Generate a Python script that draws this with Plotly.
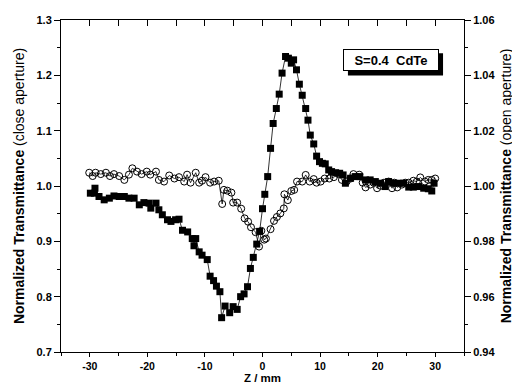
import plotly.graph_objects as go

# Close aperture (filled squares, left axis)
z_close = [-29.9, -29.2, -29.1, -28.4, -27.5, -26.6, -25.8, -24.9, -24.0, -23.2, -22.3, -21.4, -20.6,
           -19.7, -19.4, -18.5, -18.0, -17.4, -16.5, -15.9, -15.1, -14.5, -13.9, -13.0, -12.2, -11.9,
           -11.6, -11.0, -10.5, -9.6, -9.1, -8.5, -8.0, -7.4, -7.1, -6.5, -5.7, -5.1, -4.4, -3.8, -3.2,
           -2.6, -2.1, -1.6, -1.0, -0.5, 0.0, 0.4, 0.9, 1.4, 1.85, 2.4, 2.9, 3.4, 4.0, 4.5, 5.0, 5.4,
           5.9, 6.4, 6.9, 7.5, 7.9, 8.3, 8.9, 9.4, 9.9, 10.4, 10.9, 11.5, 12.0, 12.7, 13.4, 14.0, 14.4,
           15.3, 16.1, 16.9, 17.9, 18.7, 19.6, 20.5, 21.3, 21.9, 22.8, 23.7, 24.5, 25.4, 26.2, 27.1,
           28.0, 28.8, 29.4, 29.8]
t_close = [0.987, 0.987, 0.996, 0.981, 0.975, 0.978, 0.982, 0.981, 0.981, 0.978, 0.978, 0.966, 0.970,
           0.969, 0.960, 0.969, 0.957, 0.948, 0.939, 0.936, 0.939, 0.940, 0.920, 0.917, 0.905, 0.892,
           0.905, 0.881, 0.875, 0.867, 0.837, 0.829, 0.819, 0.809, 0.762, 0.783, 0.771, 0.782, 0.777,
           0.800, 0.805, 0.818, 0.851, 0.871, 0.895, 0.918, 0.959, 0.985, 1.017, 1.068, 1.113, 1.140,
           1.166, 1.204, 1.234, 1.231, 1.222, 1.228, 1.210, 1.184, 1.164, 1.140, 1.119, 1.092, 1.076,
           1.054, 1.044, 1.041, 1.040, 1.029, 1.026, 1.024, 1.023, 1.020, 1.005, 1.014, 1.017, 1.017,
           1.011, 1.011, 1.008, 1.005, 0.999, 1.008, 1.005, 1.005, 1.005, 0.998, 0.998, 0.999, 0.996,
           0.995, 0.991, 1.005]

# Open aperture (open circles, right axis)
z_open = [-30.1, -29.5, -29.0, -28.1, -27.2, -26.5, -25.8, -24.9, -24.0, -23.2, -22.6, -21.8, -21.0,
          -20.1, -19.5, -18.5, -18.0, -17.1, -16.2, -15.3, -14.5, -13.6, -13.1, -12.5, -11.6, -11.0,
          -10.5, -9.9, -9.1, -8.4, -7.6, -7.0, -6.7, -6.1, -5.4, -5.1, -4.4, -3.7, -3.1, -2.5, -2.0,
          -1.2, -0.6, -0.2, 0.3, 0.6, 1.4, 2.0, 2.5, 3.1, 3.7, 3.8, 4.4, 5.0, 5.5, 6.0, 6.9, 7.5, 8.2,
          8.9, 9.4, 10.1, 10.8, 11.6, 12.4, 13.2, 13.8, 14.6, 15.3, 15.8, 16.8, 17.4, 17.9, 18.7, 19.3,
          19.9, 20.5, 21.1, 21.9, 22.5, 22.9, 23.4, 24.2, 24.8, 25.4, 26.2, 26.8, 27.4, 28.2, 28.8,
          29.4, 30.0]
t_open = [1.0048, 1.0036, 1.0048, 1.0043, 1.0048, 1.0036, 1.0043, 1.0036, 1.0022, 1.0041, 1.0064,
          1.0052, 1.0043, 1.0052, 1.0041, 1.0052, 1.0022, 1.0016, 1.0038, 1.0027, 1.0032, 1.0016,
          1.0041, 1.0012, 1.0048, 1.0012, 1.0019, 1.0032, 1.0012, 1.0016, 1.0019, 0.9935, 0.9986,
          0.9983, 0.9976, 0.9940, 0.9940, 0.9918, 0.9883, 0.9871, 0.9851, 0.9833, 0.9781, 0.9838,
          0.9806, 0.9810, 0.9844, 0.9874, 0.9888, 0.9901, 0.9919, 0.9970, 0.9949, 0.9982, 0.9986,
          1.0016, 1.0016, 1.0040, 1.0016, 1.0025, 1.0012, 1.0016, 1.0027, 1.0027, 1.0032, 1.0043,
          1.0022, 1.0016, 1.0027, 1.0043, 1.0041, 1.0012, 0.9995, 1.0005, 1.0012, 0.9992, 1.0001,
          1.0012, 1.0016, 0.9992, 1.0012, 0.9995, 1.0005, 1.0012, 1.0012, 1.0019, 1.0016, 1.0031,
          1.0016, 1.0022, 1.0022, 1.0027]

x_ticks = [-30, -20, -10, 0, 10, 20, 30]
y_left_ticks = [0.7, 0.8, 0.9, 1.0, 1.1, 1.2, 1.3]
y_right_ticks = [0.94, 0.96, 0.98, 1.00, 1.02, 1.04, 1.06]
label_text = "S=0.4  CdTe"
x_title = "Z / mm"

FONT = "Arial, Liberation Sans, sans-serif"

fig = go.Figure()
fig.add_trace(go.Scatter(
    x=z_open, y=t_open, mode="lines+markers", yaxis="y2",
    line=dict(color="black", width=0.8),
    marker=dict(symbol="circle-open", size=7, color="black", line=dict(width=1)),
    showlegend=False))
fig.add_trace(go.Scatter(
    x=z_close, y=t_close, mode="lines+markers",
    line=dict(color="black", width=0.8),
    marker=dict(symbol="square", size=7, color="black"),
    showlegend=False))
# dummy trace to display the top axis
fig.add_trace(go.Scatter(x=[], y=[], xaxis="x2", showlegend=False))

tickfont = dict(family=FONT, size=11, color="black", weight="bold")
xtickfont = dict(family=FONT, size=10.5, color="black", weight="bold")

# page body has an 8px margin: figure is 512x377 so the plot lands at the same place
fig.update_layout(
    width=512, height=377,
    margin=dict(l=53, r=56, t=12, b=33, autoexpand=False),
    paper_bgcolor="white", plot_bgcolor="white",
    font=dict(family=FONT, color="black"),
    xaxis=dict(
        range=[-35, 35], tickvals=x_ticks, ticktext=[str(v) for v in x_ticks],
        ticks="outside", ticklen=4, tickwidth=1, tickcolor="black",
        minor=dict(ticks="outside", dtick=5, tick0=0, ticklen=3, tickcolor="black"),
        showline=True, linecolor="black", linewidth=1, showgrid=False, zeroline=False,
        tickfont=xtickfont, automargin=False,
    ),
    xaxis2=dict(
        range=[-35, 35], overlaying="x", side="top", anchor="y",
        tickmode="linear", tick0=0, dtick=5, ticks="inside", ticklen=6, tickcolor="black",
        showticklabels=False, showline=True, linecolor="black", linewidth=1,
        showgrid=False, zeroline=False, automargin=False,
    ),
    yaxis=dict(
        range=[0.7, 1.3], tickvals=y_left_ticks, ticktext=["%.1f" % v for v in y_left_ticks],
        ticks="outside", ticklen=6, tickwidth=1, tickcolor="black",
        minor=dict(ticks="outside", dtick=0.05, tick0=0.7, ticklen=3, tickcolor="black"),
        showline=True, linecolor="black", linewidth=1, showgrid=False, zeroline=False,
        tickfont=tickfont, automargin=False,
        title=dict(text="<b>Normalized Transmittance</b> (close aperture)",
                   font=dict(family=FONT, size=14), standoff=8),
    ),
    yaxis2=dict(
        range=[0.94, 1.06], overlaying="y", side="right",
        tickvals=y_right_ticks, ticktext=["%.2f" % v for v in y_right_ticks],
        ticks="outside", ticklen=6, tickwidth=1, tickcolor="black",
        minor=dict(ticks="outside", dtick=0.01, tick0=0.94, ticklen=3, tickcolor="black"),
        showline=True, linecolor="black", linewidth=1, showgrid=False, zeroline=False,
        tickfont=tickfont, automargin=False,
        title=dict(text="<b>Normalized Transmittance</b> (open aperture)",
                   font=dict(family=FONT, size=14), standoff=6),
    ),
)

# x-axis title
fig.add_annotation(xref="paper", yref="paper", x=0.5, y=-0.0994, yanchor="bottom",
                   text="<b>" + x_title + "</b>", showarrow=False, borderpad=0,
                   font=dict(family=FONT, size=11.5, color="black"))

# drop shadow of the label box
fig.add_shape(type="rect", xref="paper", yref="paper",
              x0=0.712, x1=0.948, y0=0.833, y1=0.900,
              fillcolor="black", line=dict(width=0), layer="below")
fig.add_annotation(xref="paper", yref="paper", x=0.70, y=0.913, xanchor="left", yanchor="top",
                   text="<b>" + label_text + "</b>", showarrow=False,
                   width=92, height=18, align="center", valign="middle",
                   bgcolor="white", bordercolor="black", borderwidth=1, borderpad=1,
                   font=dict(family=FONT, size=13, color="black"))

fig.write_html("out.html")
